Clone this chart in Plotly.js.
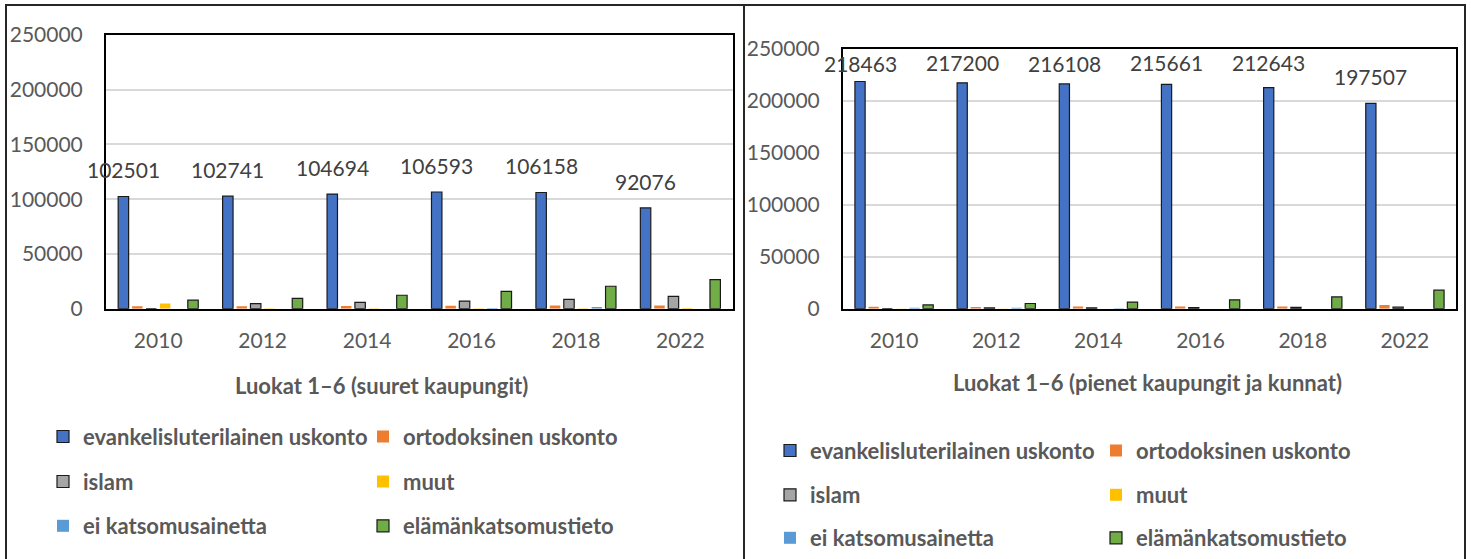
<!DOCTYPE html>
<html><head><meta charset="utf-8">
<script src="https://cdn.plot.ly/plotly-3.0.1.min.js"></script>
<style>html,body{margin:0;padding:0;background:#fff}#chart{width:1471px;height:559px}</style>
</head><body><div id="chart"></div>
<script>
// ---- data ----
const years = ['2010','2012','2014','2016','2018','2022'];
const seriesNames = ['evankelisluterilainen uskonto','ortodoksinen uskonto','islam','muut','ei katsomusainetta','elämänkatsomustieto'];
// Luokat 1–6 (suuret kaupungit)
const bigEvl  = [102501,102741,104694,106593,106158,92076];
const bigOrt  = [2200,2200,2500,2800,3000,3000];
const bigIsl  = [0,4700,5800,7000,8600,11300];
const bigMuut = [4800,500,400,500,500,600];
const bigEi   = [0,0,0,600,1500,0];
const bigEt   = [7800,9500,12300,15900,20500,26600];
// Luokat 1–6 (pienet kaupungit ja kunnat)
const smallEvl  = [218463,217200,216108,215661,212643,197507];
const smallOrt  = [1800,1600,2000,2000,2000,3500];
const smallIsl  = [0,700,800,1000,1200,1500];
const smallMuut = [300,200,0,0,0,0];
const smallEi   = [800,800,500,0,0,0];
const smallEt   = [3600,5000,6400,8500,11300,17800];
const titleBig = 'Luokat 1–6 (suuret kaupungit)';
const titleSmall = 'Luokat 1–6 (pienet kaupungit ja kunnat)';

// ---- style ----
const W = 1471, H = 559;
const colors = ['#4472C4','#ED7D31','#A5A5A5','#FFC000','#5B9BD5','#70AD47'];
const outlined = [true,false,true,false,false,true];
const FONT = 'Lato, "Open Sans", sans-serif';
const txt = '#595959';
const BARGAP = 0.2, GROUPGAP = 0.25;
// plot areas in px
const P1 = {l:106, r:732.6, t:35, b:308.7};
const P2 = {l:843, r:1456, t:48.7, b:308.7};
const YMAX = 250000;

const bigData = [bigEvl,bigOrt,bigIsl,bigMuut,bigEi,bigEt];
const smallData = [smallEvl,smallOrt,smallIsl,smallMuut,smallEi,smallEt];
const legL = ['legend','legend2','legend3'];
const legR = ['legend4','legend5','legend6'];

const traces = [];
function addTraces(data, xa, ya, legs){
  data.forEach((vals,i)=>{
    traces.push({
      type:'bar', x:years, y:vals, name:seriesNames[i], xaxis:xa, yaxis:ya,
      legend: legs[Math.floor(i/2)],
      marker:{color:colors[i], line:{color:'#1a1a1a', width: outlined[i]?1.2:0}},
      hoverinfo:'skip'
    });
  });
}
addTraces(bigData,'x','y',legL);
addTraces(smallData,'x2','y2',legR);

function labelAnn(vals, P, xref, yref, minBoxBottom){
  const catW = (P.r-P.l)/years.length;
  const slot = catW*(1-BARGAP)/6;
  const xs = -2.5*slot;
  return vals.map((v,k)=>{
    const barTop = P.b - v/YMAX*(P.b-P.t);
    let ys = 12;
    if (barTop-ys < minBoxBottom) ys = barTop-minBoxBottom;
    return {x:k, y:v, xref:xref, yref:yref, text:String(v), showarrow:false,
      xanchor:'center', yanchor:'bottom', xshift:xs, yshift:ys,
      font:{family:FONT, size:21, color:'#404040'}};
  });
}
const anns = [].concat(
  labelAnn(bigEvl, P1, 'x','y', 0),
  labelAnn(smallEvl, P2, 'x2','y2', 77.5),
  [{x:381/W, y:1-385/H, xref:'paper', yref:'paper', text:titleBig, showarrow:false,
    xanchor:'center', yanchor:'middle', font:{family:FONT, size:22, color:txt, weight:'bold'}},
   {x:1147/W, y:1-382/H, xref:'paper', yref:'paper', text:titleSmall, showarrow:false,
    xanchor:'center', yanchor:'middle', font:{family:FONT, size:22, color:txt, weight:'bold'}}]
);

function xax(P){
  return {domain:[P.l/W, P.r/W], type:'category', range:[-0.5, years.length-0.5], autorange:false,
    showline:true, mirror:true, linecolor:'#000', linewidth:2,
    ticks:'', showgrid:false, zeroline:false, tickfont:{family:FONT, size:21, color:txt}, ticklabelstandoff:12, fixedrange:true};
}
function yax(P, xa){
  return {domain:[1-P.b/H, 1-P.t/H], anchor:xa, range:[0,YMAX], autorange:false, dtick:50000, tickformat:'d',
    showgrid:true, gridcolor:'#d9d9d9', gridwidth:2, zeroline:false, showline:true, mirror:true,
    linecolor:'#000', linewidth:2, ticks:'', tickfont:{family:FONT, size:21, color:txt}, ticklabelstandoff:17, fixedrange:true};
}
function leg(xpx, ypx, ew){
  return {x:xpx/W, y:1-ypx/H, xanchor:'left', yanchor:'middle', orientation:'h', entrywidth:ew,
    traceorder:'normal', bgcolor:'rgba(0,0,0,0)', borderwidth:0,
    font:{family:FONT, size:22, color:txt, weight:'bold'}};
}
const layout = {
  width:W, height:H, margin:{l:0,r:0,t:0,b:0}, paper_bgcolor:'#fff', plot_bgcolor:'#fff',
  barmode:'group', bargap:BARGAP, bargroupgap:GROUPGAP, showlegend:true, hovermode:false,
  xaxis: Object.assign(xax(P1), {anchor:'y'}),
  yaxis: yax(P1,'x'),
  xaxis2: Object.assign(xax(P2), {anchor:'y2'}),
  yaxis2: yax(P2,'x2'),
  legend: leg(43, 436.7, 275), legend2: leg(43, 481.7, 275), legend3: leg(43, 526, 275),
  legend4: leg(770, 450.7, 281), legend5: leg(770, 495, 281), legend6: leg(770, 538.3, 281),
  annotations: anns,
  shapes:[
    {type:'rect', xref:'paper', yref:'paper', x0:6/W, x1:744/W, y0:-0.2, y1:1-5/H, line:{color:'#262626', width:2}},
    {type:'rect', xref:'paper', yref:'paper', x0:744/W, x1:1465/W, y0:-0.2, y1:1-5/H, line:{color:'#262626', width:2}}
  ]
};
Plotly.newPlot('chart', traces, layout, {staticPlot:true, displayModeBar:false});
</script></body></html>
